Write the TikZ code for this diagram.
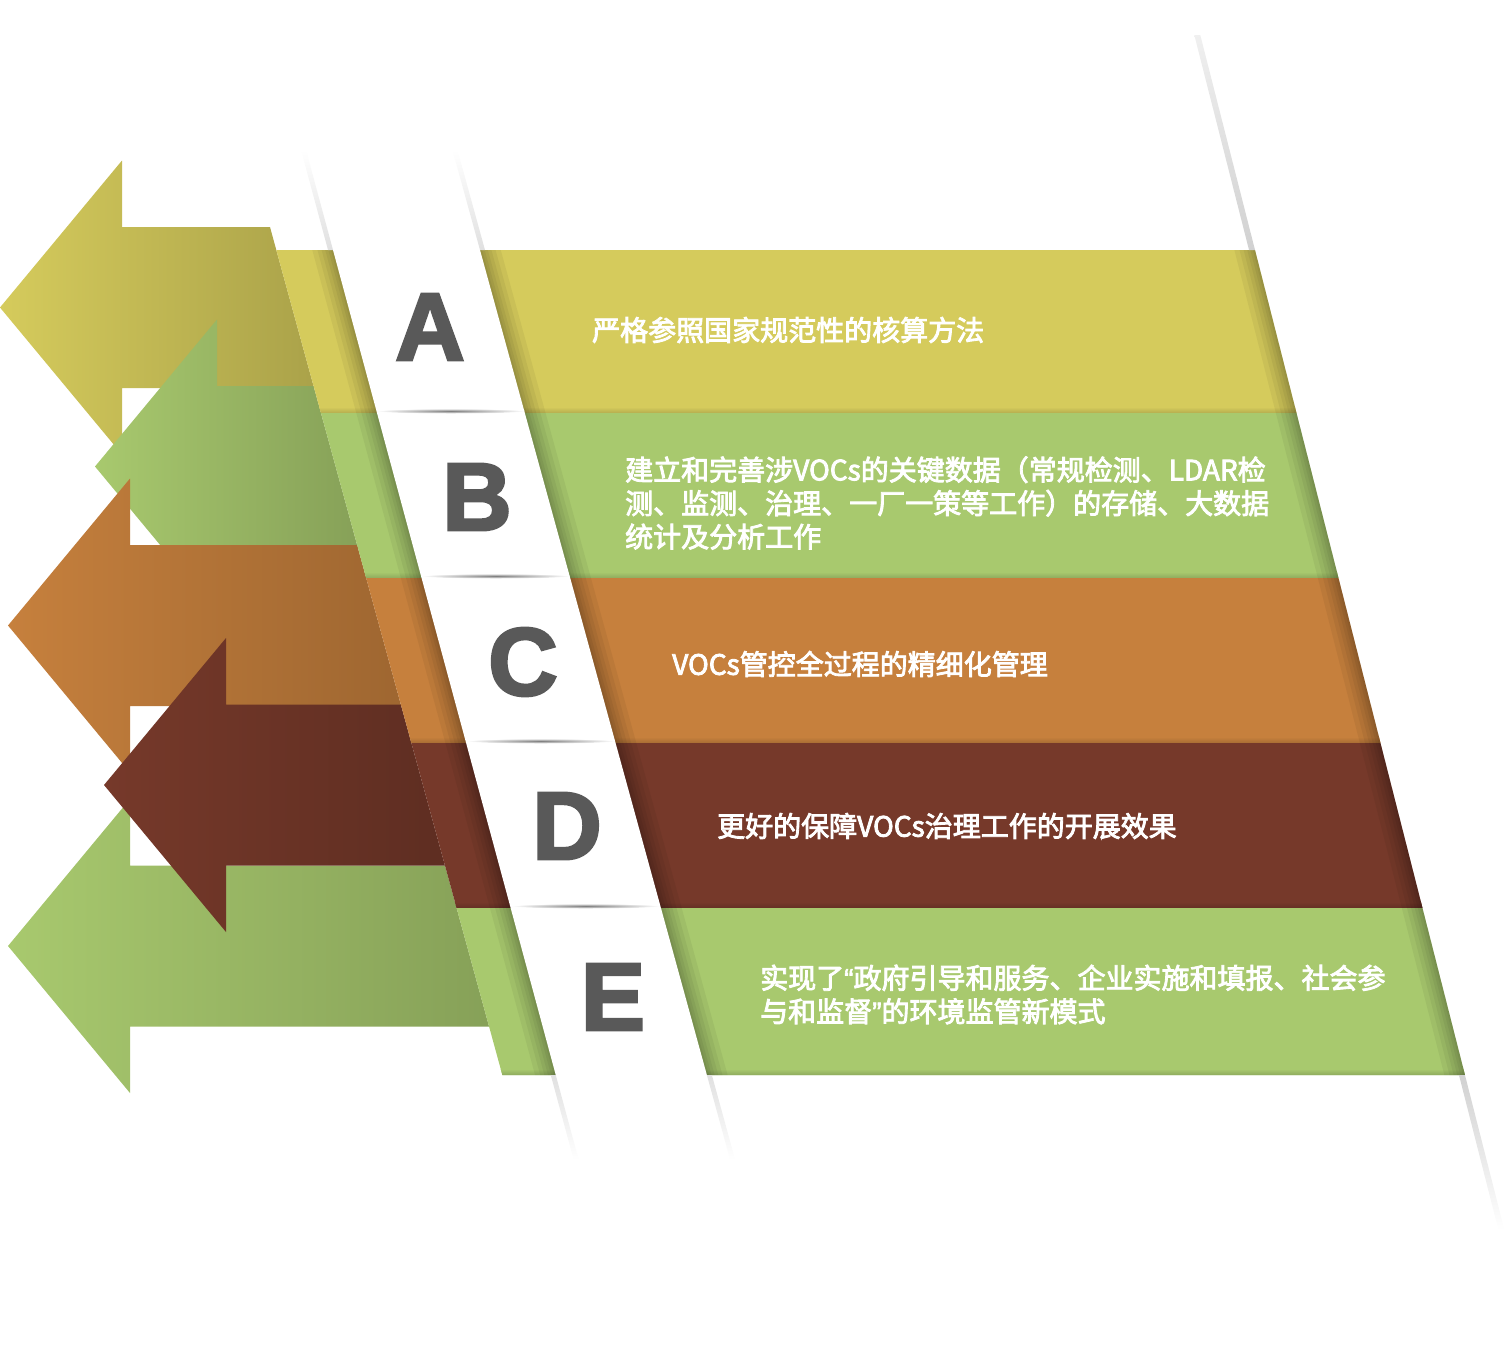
\documentclass[tikz,border=0pt]{standalone}
\usepackage{fontspec}
\setmainfont{Liberation Sans}
\newfontfamily\cjk{Noto Sans CJK SC}[FakeBold=3]
\newfontfamily\letterfont{Liberation Sans}[BoldFeatures={FakeBold=3}]
\newfontfamily\quotefont{Liberation Sans}[FakeBold=2]
\usepackage{tikz}
\definecolor{bandyellow}{RGB}{213,203,92}
\definecolor{bandgreen}{RGB}{168,201,110}
\definecolor{bandorange}{RGB}{198,128,61}
\definecolor{bandbrown}{RGB}{118,57,42}
\definecolor{lettergray}{RGB}{89,89,89}
\tikzstyle{letter} = [font=\letterfont\bfseries\fontsize{96}{96}\selectfont, text=lettergray, inner sep=0pt]
\tikzstyle{bandtext} = [font=\cjk\fontsize{28}{33.5}\selectfont, text=white, anchor=west, align=left, inner sep=0pt]
\tikzstyle{edgeshadow} = [black, opacity=0.05]
\newcommand{\openq}{{\quotefont “}}
\newcommand{\closeq}{{\quotefont ”}}

\begin{document}
\begin{tikzpicture}[x=1pt, y=-1pt,
  declare function={leftx(\y)=270+0.274*(\y-227); rightx(\y)=1255+0.2545*(\y-250);
    stripl(\y)=333+0.27*(\y-250); stripr(\y)=480+0.275*(\y-250);}]
\useasboundingbox (0,0) rectangle (1507,1357);

% Arrows pointing left
\foreach \ax/\cy/\col in {0/307.5/bandyellow, 8/946/bandgreen, 95/466.5/bandgreen, 8/625.5/bandorange, 104/785/bandbrown}{
  \shade[left color=\col, right color=\col!80!black]
    (\ax,\cy) -- (\ax+122,\cy-147) -- (\ax+122,\cy-80.5) -- ({leftx(\cy-80.5)},\cy-80.5)
    -- ({leftx(\cy+80.5)},\cy+80.5) -- (\ax+122,\cy+80.5) -- (\ax+122,\cy+147) -- cycle;
}

% Bands
\foreach \ya/\yb/\col in {250/413/bandyellow, 413/578/bandgreen, 578/743/bandorange, 743/908/bandbrown, 908/1075/bandgreen}{
  \fill[\col] ({leftx(\ya)},\ya) -- ({rightx(\ya)},\ya) -- ({rightx(\yb)},\yb) -- ({leftx(\yb)},\yb) -- cycle;
  \shade[top color=\col, bottom color=\col!85!black] ({leftx(\yb-6)},\yb-6) -- ({rightx(\yb-6)},\yb-6)
    -- ({rightx(\yb)},\yb) -- ({leftx(\yb)},\yb) -- cycle;
}

% Shadows along the strip and the right edge
\begin{scope}
\clip ({leftx(250)},250) -- ({rightx(250)},250) -- ({rightx(1075)},1075) -- ({leftx(1075)},1075) -- cycle;
\foreach \w in {40,30,22,15,9,4}{
  \draw[edgeshadow, line width=\w pt] ({stripl(150)},150) -- ({stripl(1160)},1160);
  \draw[edgeshadow, line width=\w pt] ({stripr(150)},150) -- ({stripr(1160)},1160);
  \draw[edgeshadow, line width=\w pt] ({rightx(35)},35) -- ({rightx(1230)},1230);
}
\end{scope}

% White strip
\fill[white] ({stripl(150)},150) -- ({stripr(150)},150) -- ({stripr(1160)},1160) -- ({stripl(1160)},1160) -- cycle;

% Seams in the strip
\foreach \y in {413,578,743,908}
  \shade[inner color=black!50, outer color=white] ({(stripl(\y)+stripr(\y))/2},\y-2) ellipse [x radius=74, y radius=2.5];

% Faint edges beyond the bands
\shade[top color=white, bottom color=black!12] ({stripl(150)-5},150) -- ({stripl(150)},150) -- ({stripl(250)},250) -- ({stripl(250)-5},250) -- cycle;
\shade[top color=black!12, bottom color=white] ({stripl(1075)-5},1075) -- ({stripl(1075)},1075) -- ({stripl(1160)},1160) -- ({stripl(1160)-5},1160) -- cycle;
\shade[top color=white, bottom color=black!12] ({stripr(150)},150) -- ({stripr(150)+5},150) -- ({stripr(250)+5},250) -- ({stripr(250)},250) -- cycle;
\shade[top color=black!12, bottom color=white] ({stripr(1075)},1075) -- ({stripr(1075)+5},1075) -- ({stripr(1160)+5},1160) -- ({stripr(1160)},1160) -- cycle;
\shade[top color=black!6, bottom color=black!18] ({rightx(35)-6},35) -- ({rightx(35)},35) -- ({rightx(250)},250) -- ({rightx(250)-6},250) -- cycle;
\shade[top color=black!18, bottom color=white] ({rightx(1075)-6},1075) -- ({rightx(1075)},1075) -- ({rightx(1230)},1230) -- ({rightx(1230)-6},1230) -- cycle;

% Letters
\node[letter] (letterA) at (430,327) {A};
\node[letter] (letterB) at (477,497) {B};
\node[letter] (letterC) at (523,662) {C};
\node[letter] (letterD) at (567,826) {D};
\node[letter] (letterE) at (613,997) {E};

% Texts
\node[bandtext] (textA) at (592,330) {严格参照国家规范性的核算方法};
\node[bandtext] (textB) at (625,503) {建立和完善涉VOCs的关键数据（常规检测、LDAR检\\测、监测、治理、一厂一策等工作）的存储、大数据\\统计及分析工作};
\node[bandtext] (textC) at (672,664) {VOCs管控全过程的精细化管理};
\node[bandtext] (textD) at (717,826) {更好的保障VOCs治理工作的开展效果};
\node[bandtext] (textE) at (760,994.5) {实现了\openq 政府引导和服务、企业实施和填报、社会参\\与和监督\closeq 的环境监管新模式};

\end{tikzpicture}
\end{document}
